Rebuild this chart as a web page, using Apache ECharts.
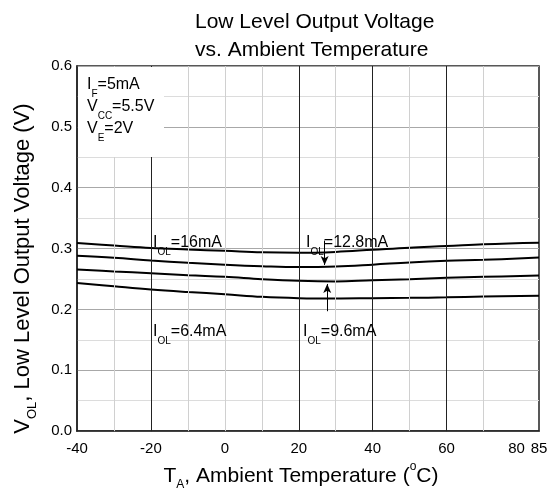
<!DOCTYPE html>
<html>
<head>
<meta charset="utf-8">
<script src="https://cdn.jsdelivr.net/npm/echarts@6/dist/echarts.min.js"></script>
<style>html,body{margin:0;padding:0;background:#fff}#c{width:556px;height:496px}</style>
</head>
<body>
<div id="c"></div>
<script>
// ---- data ----
const temps = [-40, -30, -20, -10, 0, 10, 20, 30, 40, 50, 60, 70, 85];
const vol16 = [0.309, 0.305, 0.301, 0.2985, 0.2963, 0.2938, 0.293, 0.2945, 0.298, 0.3015, 0.304, 0.307, 0.3095];
const vol128 = [0.288, 0.2847, 0.2804, 0.2767, 0.2735, 0.271, 0.2695, 0.2704, 0.2735, 0.2772, 0.2799, 0.2815, 0.2852];
const vol96 = [0.2656, 0.2624, 0.2593, 0.256, 0.2535, 0.2497, 0.247, 0.246, 0.2481, 0.2497, 0.2519, 0.2535, 0.2556];
const vol64 = [0.2434, 0.238, 0.2328, 0.2286, 0.2249, 0.2206, 0.2185, 0.218, 0.2185, 0.219, 0.2198, 0.221, 0.2225];
const xTickLabels = [-40, -20, 0, 20, 40, 60, 80, 85];
const minorX = [-30, -10, 0, 10, 30, 50, 70];
const majorX = [-20, 20, 40, 60];
const arrows = [[27, 0.313, 0.273], [27.7, 0.197, 0.2418]];

const FF = "'Liberation Sans', Arial, sans-serif";
const rich = {
  m: { fontSize: 16, fontFamily: FF, color: '#000', lineHeight: 22, verticalAlign: 'top' },
  s: { fontSize: 10, fontFamily: FF, color: '#000', lineHeight: 22, verticalAlign: 'bottom' }
};
const xNameRich = {
  m: { fontSize: 21, fontFamily: FF, color: '#000', lineHeight: 30, verticalAlign: 'middle' },
  s: { fontSize: 12, fontFamily: FF, color: '#000', lineHeight: 30, verticalAlign: 'bottom' },
  p: { fontSize: 12, fontFamily: FF, color: '#000', lineHeight: 30, verticalAlign: 'top' }
};
const yNameRich = {
  m: { fontSize: 22, fontFamily: FF, color: '#000', lineHeight: 32, verticalAlign: 'middle' },
  s: { fontSize: 13, fontFamily: FF, color: '#000', lineHeight: 32, verticalAlign: 'bottom' }
};

function ann(text, left, top) {
  return { text: text, left: left, top: top, padding: 0, z: 8,
    textStyle: { rich: rich, fontSize: 16, fontFamily: FF, fontWeight: 'normal' } };
}

const chart = echarts.init(document.getElementById('c'), null, { renderer: 'canvas' });
const curveSeries = [vol16, vol128, vol96, vol64].map((arr, k) => ({
  type: 'line', name: ['16mA', '12.8mA', '9.6mA', '6.4mA'][k],
  data: temps.map((t, i) => [t, arr[i]]),
  smooth: 0.4, showSymbol: false, symbol: 'none', z: 4,
  lineStyle: { color: '#000', width: 2 }
}));

chart.setOption({
  animation: false,
  backgroundColor: '#fff',
  title: [
    { text: 'Low Level Output Voltage\nvs. Ambient Temperature', left: 195, top: 8, padding: 0,
      textStyle: { fontSize: 21, fontWeight: 'normal', fontFamily: FF, color: '#000', lineHeight: 28 } },
    ann('{m|I}{s|F}{m|=5mA}\n{m|V}{s|CC}{m|=5.5V}\n{m|V}{s|E}{m|=2V}', 87, 77),
    ann('{m|I}{s|OL}{m|=16mA}', 153, 235),
    ann('{m|I}{s|OL}{m|=12.8mA}', 306, 235),
    ann('{m|I}{s|OL}{m|=6.4mA}', 153, 324),
    ann('{m|I}{s|OL}{m|=9.6mA}', 303, 324)
  ],
  graphic: [
    { type: 'rect', z: 6, shape: { x: 78, y: 67, width: 86, height: 90 }, style: { fill: '#fff' } }
  ],
  grid: { left: 77, right: 17, top: 66, bottom: 52, show: true, borderColor: '#222', borderWidth: 1.5, backgroundColor: 'transparent' },
  xAxis: {
    type: 'value', min: -40, max: 85, interval: 10,
    axisLine: { show: true, onZero: false, lineStyle: { color: '#222', width: 1.5 } },
    axisTick: { show: false },
    splitLine: { show: false },
    axisLabel: {
      fontSize: 15, fontFamily: FF, color: '#000', margin: 10, showMaxLabel: true, showMinLabel: true,
      formatter: v => (v === 80 ? '{l|80}' : (xTickLabels.indexOf(v) >= 0 ? String(v) : '')),
      rich: { l: { fontSize: 15, fontFamily: FF, color: '#000', padding: [0, 8, 0, 0] } }
    },
    name: '{m|T}{s|A}{m|, Ambient Temperature (}{p|o}{m|C)}',
    nameLocation: 'middle', nameGap: 25,
    nameTextStyle: { rich: xNameRich, padding: [0, 14, 0, 0] }
  },
  yAxis: {
    type: 'value', min: 0, max: 0.6, interval: 0.05,
    axisLine: { show: true, onZero: false, lineStyle: { color: '#222', width: 1.5 } },
    axisTick: { show: false },
    splitLine: { show: true, lineStyle: { color: ['#a8a8a8', '#dcdcdc'], width: 1 } },
    axisLabel: {
      fontSize: 15, fontFamily: FF, color: '#000', margin: 5,
      formatter: v => (Math.round(v * 20) % 2 === 0 ? v.toFixed(1) : '')
    },
    name: '{m|V}{s|OL}{m|, Low Level Output Voltage (V)}',
    nameLocation: 'middle', nameGap: 38, nameRotate: 90,
    nameTextStyle: { rich: yNameRich, padding: [0, 40, 0, 0] }
  },
  series: [
    { type: 'line', data: [], z: 1, silent: true,
      markLine: { silent: true, symbol: 'none', animation: false, label: { show: false },
        data: minorX.map(x => ({ xAxis: x, lineStyle: { color: '#d0d0d0', width: 1, type: 'solid' } }))
          .concat(majorX.map(x => ({ xAxis: x, lineStyle: { color: '#222', width: 1, type: 'solid' } }))) } },
    ...curveSeries,
    { type: 'line', data: [], z: 5, silent: true,
      markLine: { silent: true, symbol: ['none', 'arrow'], symbolSize: [6, 9], animation: false, label: { show: false },
        lineStyle: { color: '#000', width: 1, type: 'solid' },
        data: arrows.map(a => [{ coord: [a[0], a[1]] }, { coord: [a[0], a[2]] }]) } }
  ]
});
</script>
</body>
</html>
